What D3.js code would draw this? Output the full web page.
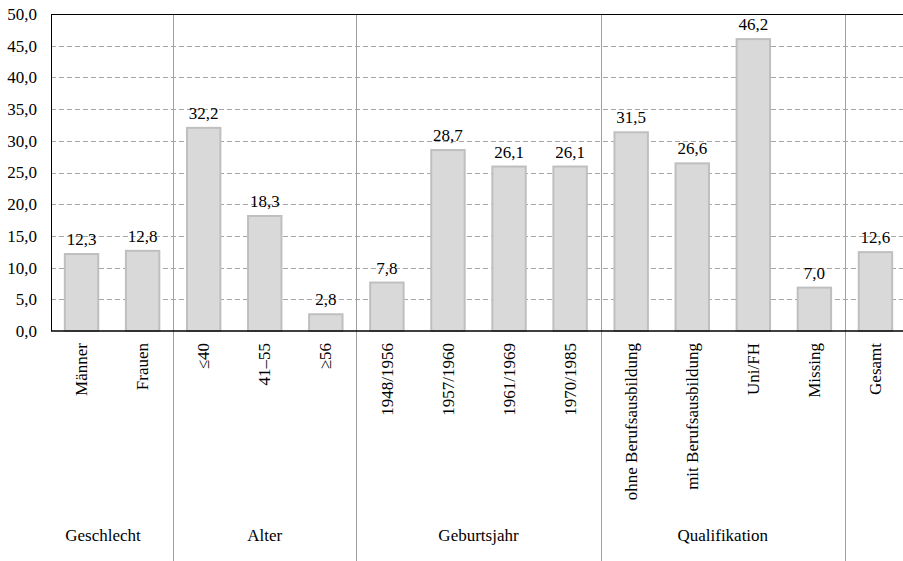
<!DOCTYPE html>
<html><head><meta charset="utf-8">
<script src="https://cdn.jsdelivr.net/npm/d3@7"></script>
<style>
html,body{margin:0;padding:0;background:#fff;}
</style></head>
<body><svg id="c" width="903" height="561"></svg>
<script>
const categories = ["Männer","Frauen","≤40","41–55","≥56","1948/1956","1957/1960","1961/1969","1970/1985","ohne Berufsausbildung","mit Berufsausbildung","Uni/FH","Missing","Gesamt"];
const values = [12.3,12.8,32.2,18.3,2.8,7.8,28.7,26.1,26.1,31.5,26.6,46.2,7.0,12.6];
const groupNames = ["Geschlecht","Alter","Geburtsjahr","Qualifikation",""];
const groupSizes = [2,3,4,4,1];
const yTicks = [0,5,10,15,20,25,30,35,40,45,50];

const FONT = "'Liberation Serif', 'Times New Roman', serif";
const W = 903, H = 561;
const m = {left:51, top:14, right:-3, bottom:230};
const svg = d3.select("#c").style("font-family", FONT);
const loc = d3.formatLocale({decimal:",", thousands:".", grouping:[3], currency:["","€"]});
const fmt = loc.format(".1f");

const x = d3.scaleBand().domain(categories).range([m.left, W - m.right]).paddingInner(0.42).paddingOuter(0.21);
const y = d3.scaleLinear().domain([0,50]).range([H - m.bottom, m.top]);
const y0 = y(0);
const xEnd = W;

// gridlines
svg.append("g").selectAll("line").data(yTicks.filter(t => t>0 && t<50)).join("line")
  .attr("x1", m.left).attr("x2", xEnd)
  .attr("y1", d => Math.round(y(d)) + 0.5).attr("y2", d => Math.round(y(d)) + 0.5)
  .attr("stroke", "#a6a6a6").attr("stroke-width", 1).attr("stroke-dasharray", "5,3");

// group separators
const half = (x.step() - x.bandwidth())/2;
let idx = 0;
const bounds = [m.left];
groupSizes.forEach((s,i) => { idx += s; bounds.push(idx < categories.length ? x(categories[idx]) - half : x(categories[categories.length-1]) + x.bandwidth() + half); });
svg.append("g").selectAll("line").data(bounds.slice(1, -1)).join("line")
  .attr("x1", d => Math.round(d) + 0.5).attr("x2", d => Math.round(d) + 0.5).attr("y1", m.top).attr("y2", H)
  .attr("stroke", "#a0a0a0").attr("stroke-width", 1);

// bars
svg.append("g").selectAll("rect").data(values).join("rect")
  .attr("x", (d,i) => x(categories[i]) + 1)
  .attr("width", x.bandwidth() - 2)
  .attr("y", d => y(d) + 1)
  .attr("height", d => y0 - y(d) - 1)
  .attr("fill", "#d9d9d9").attr("stroke", "#bfbfbf").attr("stroke-width", 2);

// value labels
svg.append("g").selectAll("text").data(values).join("text")
  .attr("x", (d,i) => x(categories[i]) + x.bandwidth()/2)
  .attr("y", d => y(d) - 8)
  .attr("text-anchor", "middle").attr("font-size", 17)
  .style("font-family", FONT)
  .text(d => fmt(d));

// y axis
const yAxis = d3.axisLeft(y).tickValues(yTicks).tickSize(0).tickPadding(14).tickFormat(d => fmt(d));
const gy = svg.append("g").attr("transform", `translate(${m.left},0)`).call(yAxis);
gy.select(".domain").remove();
gy.selectAll("text").attr("font-size", 17).style("font-family", FONT);

// x axis
const xAxis = d3.axisBottom(x).tickSize(0).tickPadding(0);
const gx = svg.append("g").attr("transform", `translate(0,${y0})`).call(xAxis);
gx.select(".domain").remove();
gx.selectAll("text")
  .attr("font-size", 17).style("font-family", FONT)
  .attr("transform", "rotate(-90)")
  .attr("text-anchor", "end")
  .attr("x", -12).attr("y", 0).attr("dy", "0.33em");

// frame lines
svg.append("line").attr("x1", m.left).attr("x2", xEnd).attr("y1", m.top + 0.5).attr("y2", m.top + 0.5).attr("stroke", "#000").attr("stroke-width", 1);
svg.append("line").attr("x1", m.left + 0.5).attr("x2", m.left + 0.5).attr("y1", m.top).attr("y2", y0).attr("stroke", "#000").attr("stroke-width", 1);
svg.append("line").attr("x1", m.left).attr("x2", xEnd).attr("y1", y0).attr("y2", y0).attr("stroke", "#000").attr("stroke-width", 1.6);

// group labels
svg.append("g").selectAll("text").data(groupNames).join("text")
  .attr("x", (d,i) => (bounds[i] + bounds[i+1])/2 - (i===0 ? 9 : 0))
  .attr("y", 541)
  .attr("text-anchor", "middle").attr("font-size", 17)
  .style("font-family", FONT)
  .text(d => d);
</script></body></html>
